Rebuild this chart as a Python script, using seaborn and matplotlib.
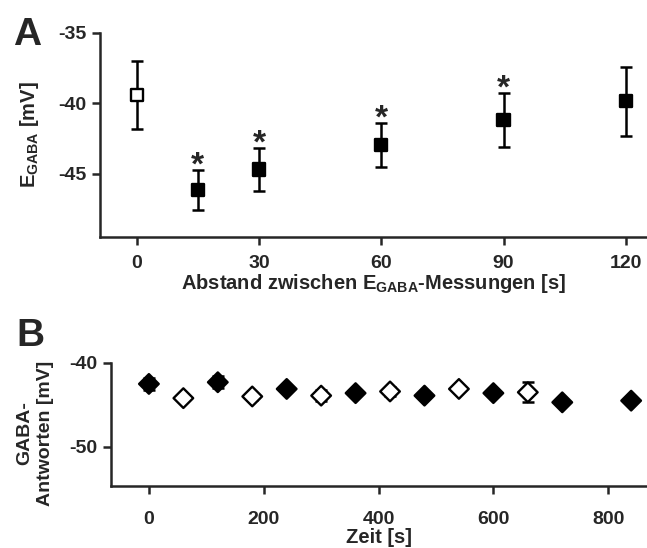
import numpy as np
import pandas as pd
import matplotlib
matplotlib.use("Agg")
import matplotlib.pyplot as plt
import seaborn as sns

# Panel A: E_GABA vs. interval between measurements
abstand = [0, 15, 30, 60, 90, 120]
egaba = [-39.4, -46.15, -44.7, -42.95, -41.2, -39.85]
egaba_err = [2.4, 1.4, 1.5, 1.55, 1.9, 2.45]
egaba_open = [True, False, False, False, False, False]
signif = [False, True, True, True, True, False]

# Panel B: GABA responses over time
zeit = [0, 60, 120, 180, 240, 300, 360, 420, 480, 540, 600, 660, 720, 840]
gaba = [-42.5, -44.2, -42.3, -44.0, -43.1, -43.9, -43.6, -43.4, -43.9, -43.1,
        -43.6, -43.5, -44.7, -44.5]
gaba_err = [0.75, 0.3, 0.7, 0.4, 0.3, 0.7, 0.2, 0.5, 0.2, 0.2, 0.2, 1.2, 0.2, 0.2]
gaba_open = [False, True, False, True, False, True, False, True, False, True,
             False, True, False, False]

sns.set_style("ticks")
plt.rcParams['font.family'] = ['Liberation Sans', 'DejaVu Sans']
plt.rcParams['font.weight'] = 'bold'
plt.rcParams['mathtext.fontset'] = 'custom'
plt.rcParams['mathtext.rm'] = 'Liberation Sans:bold'
plt.rcParams['mathtext.bf'] = 'Liberation Sans:bold'
plt.rcParams['axes.linewidth'] = 1.8
plt.rcParams['axes.unicode_minus'] = False

dfA = pd.DataFrame({"x": abstand, "y": egaba, "err": egaba_err,
                    "open": egaba_open, "sig": signif})
dfB = pd.DataFrame({"x": zeit, "y": gaba, "err": gaba_err, "open": gaba_open})

fig = plt.figure(figsize=(6.47, 5.48), dpi=100)
axA = fig.add_axes([0.1546, 0.5675, 0.8454, 0.3725])
axB = fig.add_axes([0.1716, 0.1131, 0.8284, 0.2245])


def draw(ax, df, marker, ms):
    ax.errorbar(df["x"], df["y"], yerr=df["err"], fmt="none", ecolor="black",
                elinewidth=1.8, capsize=4, capthick=1.8, zorder=2, clip_on=False)
    sns.scatterplot(data=df, x="x", y="y", hue="open", palette={True: "white", False: "black"},
                    marker=marker, s=ms ** 2, edgecolor="black", linewidth=1.7,
                    legend=False, ax=ax, zorder=3, clip_on=False)


draw(axA, dfA, "s", 8.8)
draw(axB, dfB, "D", 10.0)

# significance stars above the upper error bars
for _, r in dfA[dfA["sig"]].iterrows():
    axA.annotate("*", (r["x"], r["y"] + r["err"]), xytext=(0, -3),
                 textcoords="offset points", ha="center", va="baseline",
                 fontsize=24, fontweight="bold")

for ax in (axA, axB):
    sns.despine(ax=ax)
    ax.tick_params(length=6, width=1.8, labelsize=14, pad=4)
    for lab in ax.get_xticklabels() + ax.get_yticklabels():
        lab.set_fontweight("bold")

axA.set_xlim(-9, 125.2)
axA.set_ylim(-49.5, -35)
axA.set_xticks([0, 30, 60, 90, 120])
axA.set_yticks([-35, -40, -45])
axA.tick_params(axis="x", pad=7)
axA.set_xlabel(r"Abstand zwischen E$_{\mathrm{GABA}}$-Messungen [s]", fontsize=14.5,
               fontweight="bold", labelpad=0)
axA.set_ylabel(r"E$_{\mathrm{GABA}}$ [mV]", fontsize=14.5, fontweight="bold", labelpad=12)

axB.set_xlim(-66, 867.6)
axB.set_ylim(-54.7, -40)
axB.set_xticks([0, 200, 400, 600, 800])
axB.set_yticks([-40, -50])
axB.tick_params(axis="x", pad=12)
axB.set_xlabel("Zeit [s]", fontsize=14.5, fontweight="bold", labelpad=0)
axB.set_ylabel("GABA-\nAntworten [mV]", fontsize=14, fontweight="bold", labelpad=11,
               linespacing=1.3)
axB.yaxis.label.set_y(0.43)

fig.text(0.02, 0.969, "A", fontsize=28, fontweight="bold", va="top")
fig.text(0.026, 0.42, "B", fontsize=28, fontweight="bold", va="top")

fig.savefig("out.png", dpi=100)
